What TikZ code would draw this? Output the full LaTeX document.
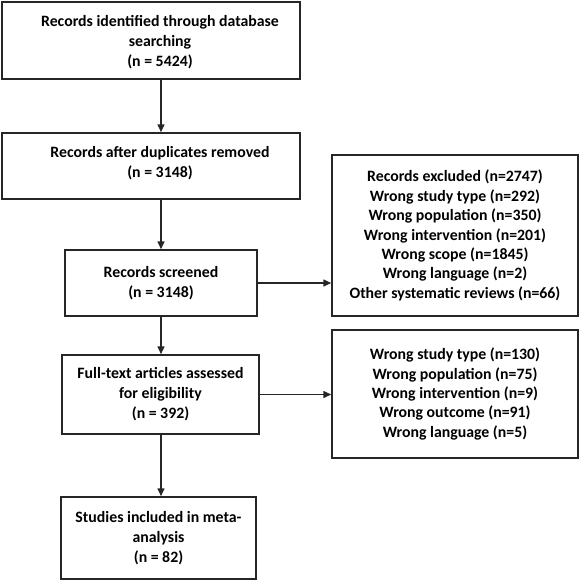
\documentclass[tikz,border=0pt]{standalone}
\usepackage{fontspec}
\setmainfont{Carlito}
\usepackage{tikz}
\usetikzlibrary{arrows.meta,positioning}
\definecolor{ln}{HTML}{262626}

\begin{document}
\begin{tikzpicture}[x=1pt,y=-1pt,
  boxtext/.style={inner sep=0pt,align=center,font=\fontsize{15.8}{20}\selectfont\bfseries},
  flowbox/.style={boxtext,draw=ln,line width=1.5pt},
  exbox/.style={flowbox,font=\fontsize{15.8}{19.4}\selectfont\bfseries},
  flowarr/.style={draw=ln,line width=1.5pt,-{Triangle[length=8pt,width=7pt]}}]
\useasboundingbox (0,0) rectangle (580,581);
% wide boxes, text sits right of centre
\node[flowbox,minimum width=298pt,minimum height=77pt] (ident) at (151,40.5) {};
\node[boxtext] (identtxt) at (160,42.5) {Records identified through database\\searching\\(n = 5424)};
\node[flowbox,minimum width=298pt,minimum height=66pt] (dupl) at (151,166) {};
\node[boxtext] (dupltxt) at (160,163) {Records after duplicates removed\\(n = 3148)};
\node[flowbox,minimum width=192pt,minimum height=66pt] (screen) at (161,283) {Records screened\\(n = 3148)};
\node[flowbox,minimum width=197pt,minimum height=79pt] (full) at (160.5,394.5) {Full-text articles assessed\\for eligibility\\(n = 392)};
\node[flowbox,minimum width=195pt,minimum height=82pt] (incl) at (158.5,538) {Studies included in meta-\\analysis\\(n = 82)};
% exclusions
\node[exbox,minimum width=246pt,minimum height=161pt] (excl) at (455,235.5) {Records excluded (n=2747)\\Wrong study type (n=292)\\Wrong population (n=350)\\Wrong intervention (n=201)\\Wrong scope (n=1845)\\Wrong language (n=2)\\Other systematic reviews (n=66)};
\node[exbox,minimum width=246pt,minimum height=128pt] (fexcl) at (455,394) {Wrong study type (n=130)\\Wrong population (n=75)\\Wrong intervention (n=9)\\Wrong outcome (n=91)\\Wrong language (n=5)};
\draw[flowarr] (ident.south -| screen.north) -- (dupl.north -| screen.north);
\draw[flowarr] (dupl.south -| screen.north) -- (screen.north);
\draw[flowarr] (screen.south) -- (full.north -| screen.south);
\draw[flowarr] (full.south -| screen.south) -- (incl.north -| screen.south);
\draw[flowarr] (screen.east) -- (screen.east -| excl.west);
\draw[flowarr] (full.east) -- (full.east -| fexcl.west);
\end{tikzpicture}
\end{document}
